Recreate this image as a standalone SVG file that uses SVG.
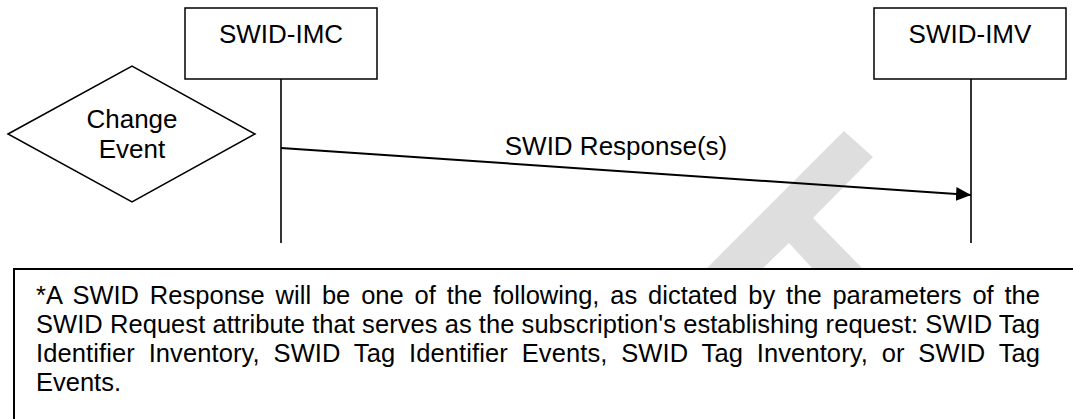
<svg xmlns="http://www.w3.org/2000/svg" width="1073" height="419" viewBox="0 0 1073 419">
<style>
.box{fill:#fff;stroke:#000;stroke-width:1.5}
.life{stroke:#000;stroke-width:1.6;fill:none}
.t{font-family:"Liberation Sans",Arial,sans-serif;font-size:26px;fill:#000}
.n{font-family:"Liberation Sans",Arial,sans-serif;font-size:25.5px;fill:#000}
</style>
<defs>
<marker id="ah" markerWidth="16" markerHeight="14" refX="15" refY="7" orient="auto" markerUnits="userSpaceOnUse">
<path d="M0,0 L15,7 L0,14 Z" fill="#000"/>
</marker>
</defs>
<rect width="1073" height="419" fill="#fff"/>
<polygon points="844,131 873,157 813,218 862,268 812,268 789,243 763,268 707,268" fill="#dedede"/>
<g id="imc">
<rect class="box" x="185" y="8" width="192" height="71"/>
<text class="t" x="281" y="43" text-anchor="middle">SWID-IMC</text>
</g>
<g id="imv">
<rect class="box" x="874" y="8" width="192" height="71"/>
<text class="t" x="970" y="43" text-anchor="middle">SWID-IMV</text>
</g>
<g id="change">
<polygon class="box" points="8,134 132,66 255,134 132,202"/>
<text class="t" x="132" y="128" text-anchor="middle">Change</text>
<text class="t" x="132" y="158" text-anchor="middle">Event</text>
</g>
<g id="connectors">
<line class="life" x1="281" y1="79" x2="281" y2="243"/>
<line class="life" x1="971" y1="79" x2="971" y2="243"/>
<line x1="281" y1="148" x2="971" y2="195" stroke="#000" stroke-width="2" marker-end="url(#ah)"/>
<text class="t" x="616" y="155" text-anchor="middle">SWID Response(s)</text>
</g>
<g id="note">
<path d="M14,419 L14,269 L1073,269" fill="none" stroke="#000" stroke-width="2"/>
<text class="n" x="36" y="304" style="word-spacing:3.7px" textLength="1004" lengthAdjust="spacing">*A SWID Response will be one of the following, as dictated by the parameters of the</text>
<text class="n" x="36" y="333" style="word-spacing:0px" textLength="1004" lengthAdjust="spacing">SWID Request attribute that serves as the subscription's establishing request: SWID Tag</text>
<text class="n" x="36" y="362" style="word-spacing:6.6px" textLength="1004" lengthAdjust="spacing">Identifier Inventory, SWID Tag Identifier Events, SWID Tag Inventory, or SWID Tag</text>
<text class="n" x="36" y="391">Events.</text>
</g>
</svg>
